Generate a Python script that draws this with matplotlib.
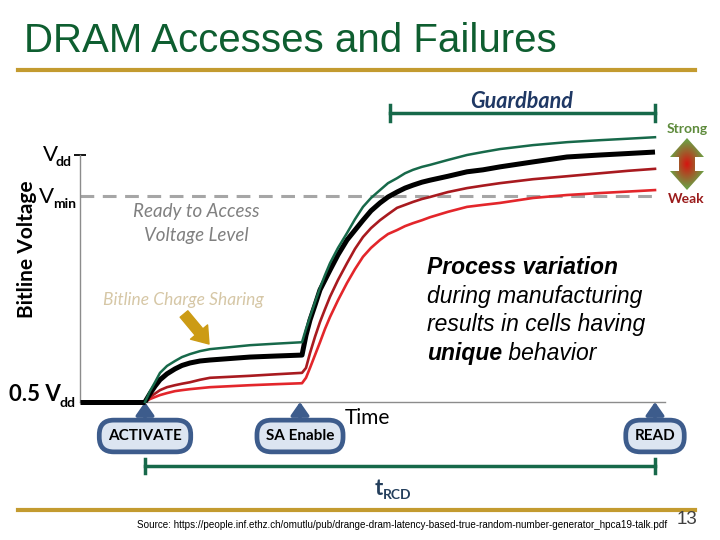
import numpy as np
import matplotlib.pyplot as plt
from matplotlib.patches import Polygon
from matplotlib.transforms import blended_transform_factory

# time in arbitrary units (ACTIVATE at 0), bitline voltage as fraction of Vdd
t_pre = [-6.5, 0.0]
v_pre = [0.5, 0.5]
t_cell = [0, 0.5, 1.0, 1.5, 2.2, 3.0, 3.7, 4.5, 5.5, 6.5, 8.5, 10.5, 13.0, 15.7,
          16.1, 16.5, 17.0, 17.5, 18.0, 18.5, 19.3, 20.2, 21.0, 21.8, 22.6, 23.5,
          24.3, 25.2, 26.0, 26.8, 27.7, 28.5, 30.3, 32.2, 33.8, 35.5, 38.8, 42.2,
          45.5, 48.3, 51.0]
v_strong = [0.500, 0.522, 0.540, 0.559, 0.573, 0.583, 0.591, 0.597, 0.603, 0.607, 0.611,
            0.615, 0.618, 0.621, 0.648, 0.672, 0.702, 0.731, 0.757, 0.781, 0.812, 0.842,
            0.870, 0.895, 0.913, 0.929, 0.943, 0.953, 0.963, 0.970, 0.976, 0.980, 0.990,
            1.000, 1.006, 1.012, 1.020, 1.026, 1.030, 1.033, 1.036]
v_typical = [0.500, 0.517, 0.532, 0.545, 0.557, 0.567, 0.574, 0.579, 0.583, 0.585, 0.588,
             0.591, 0.593, 0.595, 0.635, 0.666, 0.696, 0.727, 0.747, 0.767, 0.798, 0.828,
             0.848, 0.868, 0.887, 0.903, 0.915, 0.925, 0.933, 0.939, 0.945, 0.949, 0.957,
             0.966, 0.970, 0.976, 0.986, 0.996, 1.000, 1.003, 1.006]
v_weak = [0.500, 0.510, 0.517, 0.524, 0.530, 0.534, 0.537, 0.540, 0.545, 0.549, 0.551,
          0.553, 0.556, 0.559, 0.569, 0.599, 0.632, 0.662, 0.688, 0.713, 0.747, 0.781,
          0.810, 0.834, 0.852, 0.868, 0.880, 0.893, 0.899, 0.905, 0.911, 0.915, 0.925,
          0.933, 0.938, 0.943, 0.951, 0.957, 0.963, 0.968, 0.972]
v_weakest = [0.500, 0.506, 0.510, 0.514, 0.518, 0.522, 0.524, 0.526, 0.528, 0.530, 0.532,
             0.534, 0.536, 0.538, 0.549, 0.569, 0.595, 0.621, 0.648, 0.672, 0.706, 0.741,
             0.769, 0.794, 0.812, 0.828, 0.840, 0.848, 0.856, 0.862, 0.868, 0.874, 0.885,
             0.895, 0.899, 0.903, 0.913, 0.919, 0.923, 0.926, 0.929]
v_min = 0.917
events = ['ACTIVATE', 'SA Enable', 'READ']
t_events = [0.0, 15.5, 51.0]
t_guard = [24.5, 51.0]
t_rcd = [0.0, 51.0]

green = '#17694A'
blue = '#3D5C8C'
gold = '#C39B2F'

fig = plt.figure(figsize=(7.2, 5.4), dpi=100)

# slide background in pixel coordinates
bg = fig.add_axes([0, 0, 1, 1])
bg.set_xlim(0, 720)
bg.set_ylim(540, 0)
bg.axis('off')

# chart area: y axis at x=80, x axis at y=402, Vdd at y=155
ax = fig.add_axes([80/720, (540-402)/540, (665-80)/720, (402-155)/540])
ax.patch.set_visible(False)
ax.set_xlim(-6.5, 52.0)
ax.set_ylim(0.5, 1.0)
for s in ['top', 'right']:
    ax.spines[s].set_visible(False)
for s in ['left', 'bottom']:
    ax.spines[s].set_color('#8C8C8C')
    ax.spines[s].set_linewidth(1)
ax.set_xticks([])
ax.set_yticks([1.0])
ax.set_yticklabels([])
ax.tick_params(axis='y', direction='inout', length=9, width=1.3, color='black')

ax.hlines(v_min, t_pre[0], t_events[-1], colors='#A6A6A6', lw=2.2,
          linestyles=(0, (4.5, 2.8)), zorder=1)
ax.plot(t_cell, v_weakest, color='#E3262B', lw=1.9, clip_on=False, zorder=2)
ax.plot(t_cell, v_weak, color='#A81A1F', lw=1.9, clip_on=False, zorder=2)
ax.plot(t_cell, v_typical, color='black', lw=3.6, clip_on=False, zorder=3,
        solid_capstyle='butt')
ax.plot(t_pre, v_pre, color='black', lw=3.6, clip_on=False, zorder=3,
        solid_capstyle='butt')
ax.plot(t_cell, v_strong, color=green, lw=1.8, clip_on=False, zorder=4)

evt = blended_transform_factory(ax.transData, bg.transData)

# title and gold rules
bg.text(24, 41, 'DRAM Accesses and Failures', family='Liberation Sans', fontsize=29,
        color='#0E5E30', ha='left', va='center')
bg.plot([18, 695], [70, 70], color=gold, lw=3)
bg.plot([18, 695], [510, 510], color=gold, lw=3)
bg.text(137, 525, 'Source: https://people.inf.ethz.ch/omutlu/pub/drange-dram-latency-'
        'based-true-random-number-generator_hpca19-talk.pdf', family='Liberation Sans',
        fontsize=7.15, ha='left', va='center')
bg.text(677, 520, '13', family='Liberation Sans', fontsize=13.5, color='#404040',
        ha='left', va='center')

# y axis labels
bg.text(27, 249, 'Bitline Voltage', family='Lato', fontweight='bold', fontsize=15,
        rotation=90, ha='center', va='center')
bg.text(43, 161, 'V', family='Lato', fontsize=16, ha='left', va='baseline')
bg.text(56, 166, 'dd', family='Lato', fontweight='bold', fontsize=10, ha='left', va='baseline')
bg.text(39, 203, 'V', family='Lato', fontsize=16, ha='left', va='baseline')
bg.text(53, 208, 'min', family='Lato', fontweight='bold', fontsize=10, ha='left', va='baseline')
bg.text(9, 401, '0.5 V', family='Lato', fontweight='bold', fontsize=16, ha='left',
        va='baseline')
bg.text(60, 407, 'dd', family='Lato', fontweight='bold', fontsize=10, ha='left',
        va='baseline')

# in-plot notes
bg.text(196, 212, 'Ready to Access', family='Lato', style='italic', fontsize=13.5,
        color='#808080', ha='center', va='center')
bg.text(196, 236, 'Voltage Level', family='Lato', style='italic', fontsize=13.5,
        color='#808080', ha='center', va='center')
bg.text(183, 300, 'Bitline Charge Sharing', family='Lato', style='italic', fontsize=12.5,
        color='#D6C7A6', ha='center', va='center')
bg.annotate('', xy=(209, 344), xytext=(184, 314),
            arrowprops=dict(arrowstyle='simple,head_length=0.7,head_width=1.0,tail_width=0.45',
                            color='#CC9B14', mutation_scale=16, shrinkA=0, shrinkB=0))

pv = dict(family='Liberation Sans', fontsize=16.5, style='italic', ha='left', va='baseline')
bg.text(427, 274, 'Process variation', fontweight='bold', **pv)
bg.text(427, 303, 'during manufacturing', **pv)
bg.text(427, 331, 'results in cells having', **pv)
uq = bg.text(427, 360, 'unique', fontweight='bold', **pv)
bg.annotate(' behavior', xy=(1, 0), xycoords=uq, family='Liberation Sans', fontsize=16.5,
            style='italic', ha='left', va='bottom')

# strong / weak indicator
bg.text(687, 129, 'Strong', family='Lato', fontweight='bold', fontsize=10,
        color='#5E8B3C', ha='center', va='center')
bg.text(686, 199, 'Weak', family='Lato', fontweight='bold', fontsize=10,
        color='#9B1C1C', ha='center', va='center')
arrow_pts = [(687, 138), (704, 157), (695, 157), (695, 171), (704, 171), (687, 190),
             (670, 171), (679, 171), (679, 157), (670, 157)]
dbl = Polygon(arrow_pts, closed=True, fc='none', ec='none')
bg.add_patch(dbl)
yy, xx = np.mgrid[138:190:80j, 670:704:60j]
d = np.clip(np.hypot((xx - 687) / 17, (yy - 164) / 24), 0, 1)[..., None]
img = np.array([0.84, 0.08, 0.06]) * (1 - d) + np.array([0.43, 0.62, 0.27]) * d
bg.imshow(img, extent=(670, 704, 190, 138), clip_path=dbl, aspect='auto',
          interpolation='bilinear', zorder=3)
bg.set_xlim(0, 720)
bg.set_ylim(540, 0)

# guardband
bg.plot(t_guard, [113, 113], color=green, lw=2.5, transform=evt)
for tg in t_guard:
    bg.plot([tg, tg], [105, 121], color=green, lw=2.5, transform=evt)
bg.text(522, 102, 'Guardband', family='Lato', fontweight='bold', style='italic',
        fontsize=15.5, color='#1F3864', ha='center', va='center')

# time axis: events
for name, te in zip(events, t_events):
    bg.annotate('', xy=(te, 402), xytext=(te, 419), xycoords=evt, textcoords=evt,
                arrowprops=dict(arrowstyle='-|>,head_length=0.5,head_width=0.35',
                                color=blue, lw=2.5, shrinkA=0, shrinkB=0,
                                mutation_scale=16))
    bg.text(te, 436, name, transform=evt, family='Lato', fontweight='bold', fontsize=11,
            ha='center', va='center', zorder=5,
            bbox=dict(boxstyle='round,pad=0.58,rounding_size=0.95', fc='#DCE5F1',
                      ec=blue, lw=3.4))
bg.text(345, 418, 'Time', family='Lato', fontsize=15, ha='left', va='center')

# tRCD
bg.plot(t_rcd, [466, 466], color=green, lw=2.5, transform=evt)
for tr in t_rcd:
    bg.plot([tr, tr], [459, 473], color=green, lw=2.5, transform=evt)
bg.text(375, 495, 't', family='Lato', fontweight='bold', fontsize=16, color='#243F5C',
        ha='left', va='baseline')
bg.text(383, 499, 'RCD', family='Lato', fontweight='bold', fontsize=10, color='#243F5C',
        ha='left', va='baseline')

fig.savefig('out.png', dpi=100)
